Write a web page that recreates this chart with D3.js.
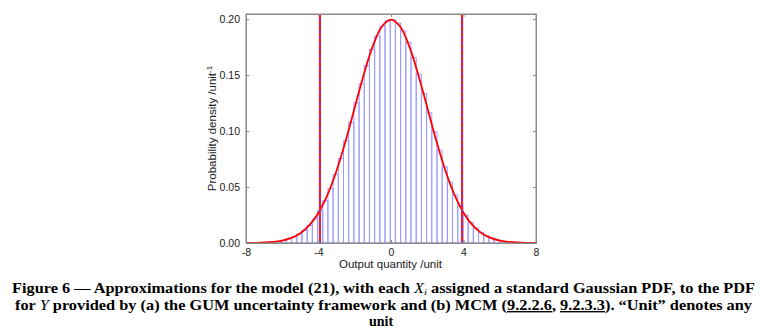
<!DOCTYPE html>
<html><head><meta charset="utf-8">
<script src="https://cdn.jsdelivr.net/npm/d3@7"></script>
<style>body{margin:0;background:#fff;} svg{display:block;}</style>
</head><body>
<svg id="c" width="770" height="330"></svg>
<script>
// ---- data ----
const binWidth = 0.2865;
const binCenters = [-7.376,-7.0895,-6.803,-6.5165,-6.23,-5.9435,-5.657,-5.3705,-5.084,-4.7975,-4.511,-4.2245,-3.938,-3.6515,-3.365,-3.0785,-2.792,-2.5055,-2.219,-1.9325,-1.646,-1.3595,-1.073,-0.7865,-0.5,-0.2135,0.073,0.3595,0.646,0.9325,1.219,1.5055,1.792,2.0785,2.365,2.6515,2.938,3.2245,3.511,3.7975,4.084,4.3705,4.657,4.9435,5.23,5.5165,5.803,6.0895,6.376,6.6625,6.949,7.2355];
const binHeights = [0.0002,0.0004,0.0006,0.0010,0.0016,0.0024,0.0037,0.0054,0.0079,0.0113,0.0158,0.0215,0.0288,0.0378,0.0485,0.0611,0.0754,0.0912,0.1079,0.1252,0.1422,0.1585,0.1729,0.1848,0.1935,0.1984,0.1994,0.1964,0.1894,0.1790,0.1657,0.1503,0.1335,0.1163,0.0992,0.0829,0.0678,0.0544,0.0427,0.0329,0.0248,0.0183,0.0133,0.0094,0.0065,0.0045,0.0030,0.0019,0.0012,0.0008,0.0005,0.0003];
const curveX = [-8,-7.5,-7,-6.5,-6,-5.5,-5,-4.5,-4,-3.5,-3,-2.5,-2,-1.5,-1,-0.5,0,0.5,1,1.5,2,2.5,3,3.5,4,4.5,5,5.5,6,6.5,7,7.5,8];
const curveY = [0.00007,0.00018,0.00044,0.00101,0.00222,0.00455,0.00876,0.01587,0.02700,0.04314,0.06476,0.09132,0.12099,0.15057,0.17603,0.19333,0.19947,0.19333,0.17603,0.15057,0.12099,0.09132,0.06476,0.04314,0.02700,0.01587,0.00876,0.00455,0.00222,0.00101,0.00044,0.00018,0.00007];
const intervalEnds = [-3.92, 3.92];
const xTicks = [-8,-4,0,4,8];
const xTickLabels = ['-8','-4','0','4','8'];
const yTicks = [0,0.05,0.10,0.15,0.20];
const yTickLabels = ['0.00','0.05','0.10','0.15','0.20'];
const xDomain = [-8, 8];
const yDomain = [0, 0.2045];

// ---- layout ----
const svg = d3.select('#c');
const L = 246, R = 536, T = 14, B = 243;
const x = d3.scaleLinear().domain(xDomain).range([L, R]);
const y = d3.scaleLinear().domain(yDomain).range([B, T]);
const axisColor = '#8a8a8a';
const font = 'Liberation Sans, Arial, sans-serif';

// histogram
svg.append('g').selectAll('rect').data(binCenters).join('rect')
  .attr('x', (c) => x(c - binWidth/2) + 0.5)
  .attr('width', () => x(binWidth) - x(0))
  .attr('y', (c,i) => y(binHeights[i]))
  .attr('height', (c,i) => y(0) - y(binHeights[i]))
  .attr('fill', 'none')
  .attr('stroke', '#9c9cff')
  .attr('stroke-width', 1);

// gaussian curve
const line = d3.line().x(d => x(d[0])).y(d => y(d[1])).curve(d3.curveCatmullRom);
svg.append('path').datum(curveX.map((v,i)=>[v, curveY[i]]))
  .attr('d', line).attr('fill','none').attr('stroke','#ff0000').attr('stroke-width',1.8);

// interval lines
intervalEnds.forEach(v => {
  svg.append('line').attr('x1', x(v)).attr('x2', x(v)).attr('y1', y(0)).attr('y2', T)
    .attr('stroke','#ff2020').attr('stroke-width',2.2);
  svg.append('line').attr('x1', x(v)).attr('x2', x(v)).attr('y1', y(0)).attr('y2', T)
    .attr('stroke','#3a3aff').attr('stroke-width',1).attr('stroke-dasharray','3,3');
});

// axes box
svg.append('rect').attr('x', L).attr('y', T).attr('width', R-L).attr('height', B-T)
  .attr('fill','none').attr('stroke', axisColor).attr('stroke-width',1);

// axes
const xAx = svg.append('g').attr('transform', `translate(0,${B})`)
  .call(d3.axisBottom(x).tickValues(xTicks).tickSize(-3).tickPadding(6).tickFormat((d,i) => xTickLabels[i]));
const xAxTop = svg.append('g').attr('transform', `translate(0,${T})`)
  .call(d3.axisTop(x).tickValues(xTicks).tickSize(-3).tickFormat(''));
const yAx = svg.append('g').attr('transform', `translate(${L},0)`)
  .call(d3.axisLeft(y).tickValues(yTicks).tickSize(-3).tickPadding(6).tickFormat((d,i) => yTickLabels[i]));
const yAxR = svg.append('g').attr('transform', `translate(${R},0)`)
  .call(d3.axisRight(y).tickValues(yTicks).tickSize(-3).tickFormat(''));
[xAx, xAxTop, yAx, yAxR].forEach(g => {
  g.select('.domain').attr('stroke', axisColor);
  g.selectAll('.tick line').attr('stroke', axisColor);
  g.selectAll('text').attr('font-family', font).attr('font-size', 10.5).attr('fill', '#1a1a1a');
});

// axis labels
svg.append('text').attr('x', (L+R)/2 - 0.5).attr('y', 268).attr('text-anchor','middle')
  .attr('font-family', font).attr('font-size', 11.5).attr('fill','#1a1a1a').text('Output quantity /unit');
const yl = svg.append('text').attr('transform', `translate(216,${(T+B)/2}) rotate(-90)`)
  .attr('text-anchor','middle').attr('font-family', font).attr('font-size', 11.5).attr('fill','#1a1a1a');
yl.append('tspan').text('Probability density /unit');
yl.append('tspan').attr('dy', -4.5).attr('font-size', 8).text('-1');

// caption
const cf = 'Liberation Serif, DejaVu Serif, serif';
const cs = 14;
const c1 = svg.append('text').attr('x', 12).attr('y', 293).attr('font-family', cf).attr('font-size', cs)
  .attr('font-weight','bold').attr('fill','#000').attr('textLength', 743).attr('lengthAdjust','spacingAndGlyphs');
c1.append('tspan').text('Figure 6 — Approximations for the model (21), with each ');
c1.append('tspan').attr('font-style','italic').attr('font-weight','normal').text('X');
c1.append('tspan').attr('font-style','italic').attr('font-weight','normal').attr('font-size',9).attr('dy',2).text('i');
c1.append('tspan').attr('dy',-2).text(' assigned a standard Gaussian PDF, to the PDF');

const c2 = svg.append('text').attr('x', 15).attr('y', 310).attr('font-family', cf).attr('font-size', cs)
  .attr('font-weight','bold').attr('fill','#000').attr('textLength', 737).attr('lengthAdjust','spacingAndGlyphs');
c2.append('tspan').text('for ');
c2.append('tspan').attr('font-style','italic').attr('font-weight','normal').text('Y');
c2.append('tspan').text(' provided by (a) the GUM uncertainty framework and (b) MCM (');
c2.append('tspan').attr('text-decoration','underline').text('9.2.2.6');
c2.append('tspan').text(', ');
c2.append('tspan').attr('text-decoration','underline').text('9.2.3.3');
c2.append('tspan').text('). “Unit” denotes any');

svg.append('text').attr('x', 381).attr('y', 326).attr('text-anchor','middle').attr('font-family', cf)
  .attr('font-size', cs).attr('font-weight','bold').attr('fill','#000').text('unit');
</script>
</body></html>
